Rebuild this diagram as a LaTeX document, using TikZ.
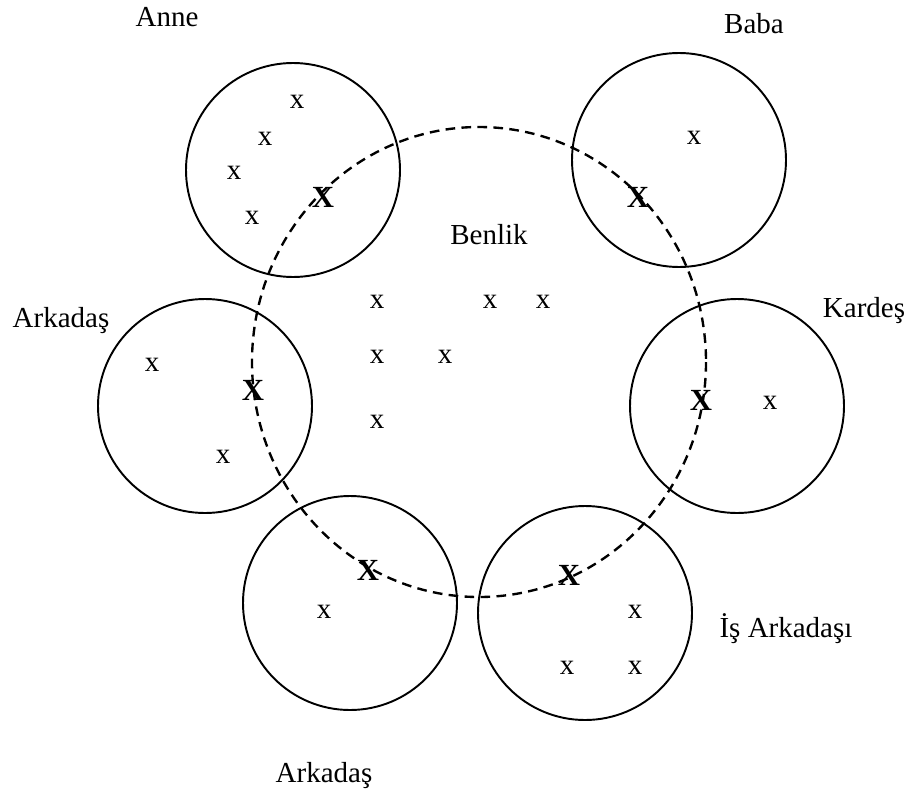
\documentclass[tikz,border=0pt]{standalone}
\usepackage{fontspec}
\setmainfont{Liberation Serif}

\begin{document}
\begin{tikzpicture}[x=0.02cm,y=-0.02cm,
  every node/.style={font=\fontsize{16.5}{20}\selectfont, inner sep=0pt},
  ring/.style={line width=1.1pt},
  self/.style={line width=1.35pt, dash pattern=on 5.5pt off 3.6pt},
  lbl/.style={anchor=base},
  bigx/.style={font=\fontsize{17.5}{21}\selectfont\bfseries}]
\def\r{107}
\useasboundingbox (0,0) rectangle (909,791);

% benlik
\draw[self] (479,362) ellipse[x radius=227, y radius=235];
\node[lbl] (benlik) at (489,244) {Benlik};
\foreach \p [count=\i] in {(377,302),(490,302),(543,302),(377,357),(445,357),(377,422)}
  \node (b\i) at \p {x};

% others
\draw[ring] (293,170) circle[radius=\r];
\draw[ring] (679,160) circle[radius=\r];
\draw[ring] (205,406) circle[radius=\r];
\draw[ring] (737,406) circle[radius=\r];
\draw[ring] (350,603) circle[radius=\r];
\draw[ring] (585,613) circle[radius=\r];

\node[lbl] (anne) at (167,27) {Anne};
\node[lbl] (baba) at (754,33) {Baba};
\node[lbl] (ark1) at (61,327) {Arkadaş};
\node[lbl] (kardes) at (864,317) {Kardeş};
\node[lbl] (ark2) at (324,782) {Arkadaş};
\node[lbl] (isark) at (786,637) {İş Arkadaşı};

\foreach \p [count=\i] in {(297,102),(265,139),(234,173),(252,218),(694,138),
  (152,365),(223,457),(770,403),(324,612),(635,612),(567,668),(635,668)}
  \node (o\i) at \p {x};

% shared
\foreach \p [count=\i] in {(323,197),(638,197),(253,390),(701,400),(368,570),(569,575)}
  \node[bigx] (s\i) at \p {X};
\end{tikzpicture}
\end{document}
